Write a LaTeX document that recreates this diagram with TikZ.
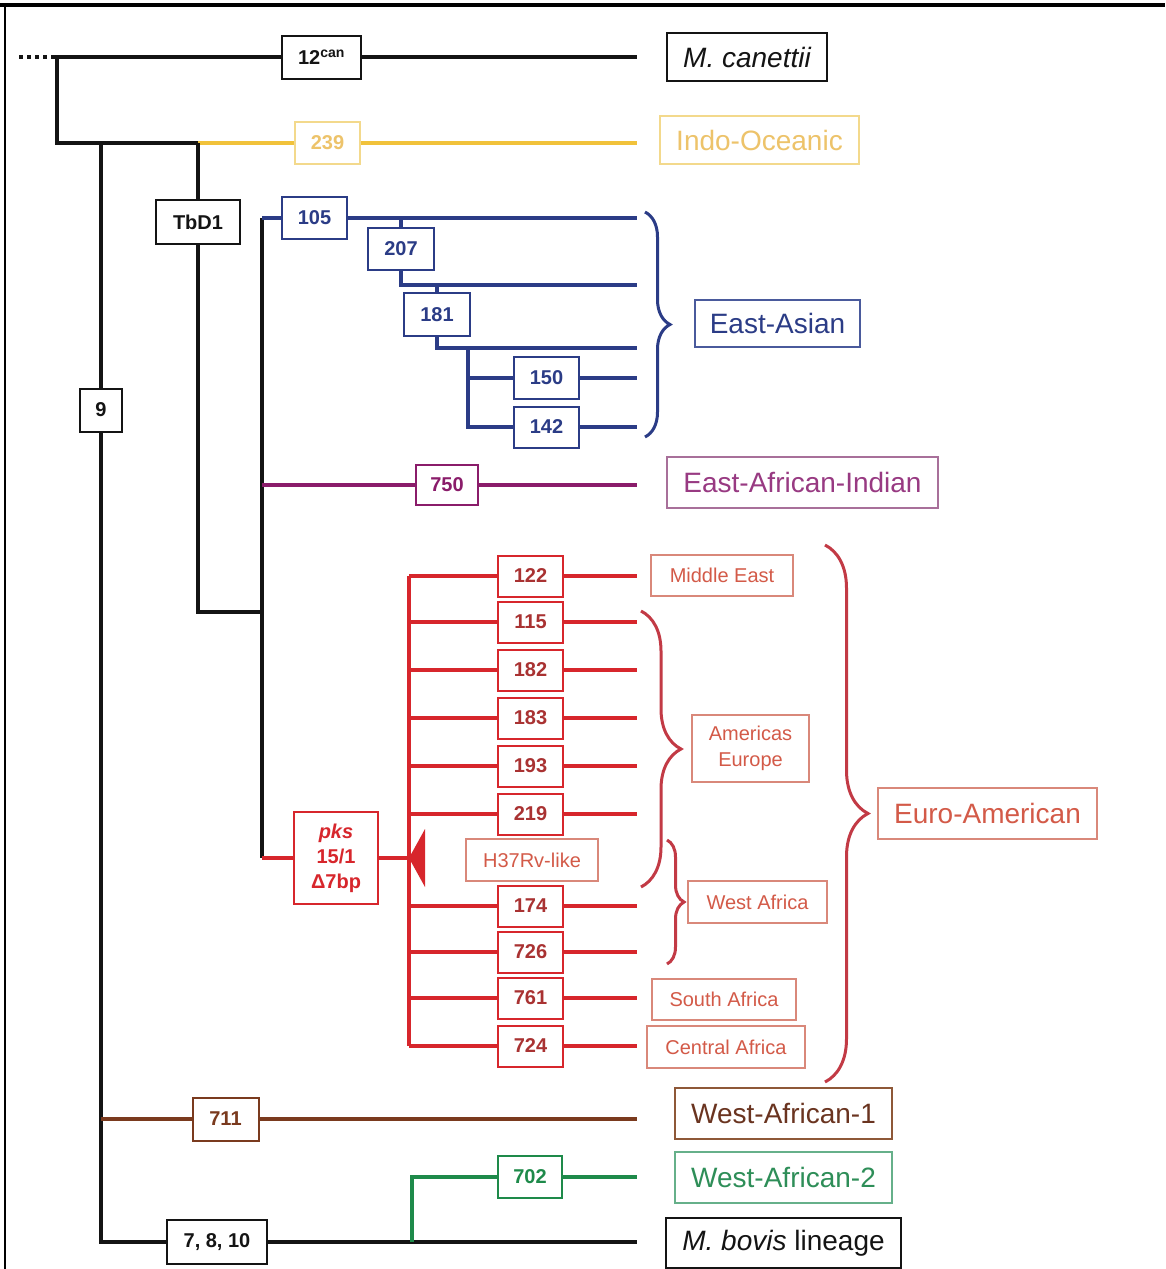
\documentclass[tikz,border=0pt]{standalone}
\usepackage{fontspec}
\setmainfont{Liberation Sans}
\usetikzlibrary{decorations.pathreplacing}
\definecolor{cBlk}{HTML}{141414}
\definecolor{cYel}{HTML}{F1C23A}
\definecolor{cYelT}{HTML}{EDC36A}
\definecolor{cYelB}{HTML}{F3D98C}
\definecolor{cBlu}{HTML}{2B3C86}
\definecolor{cBluB}{HTML}{4A5A9C}
\definecolor{cPur}{HTML}{8A1C6A}
\definecolor{cPurT}{HTML}{983A82}
\definecolor{cPurB}{HTML}{A8709A}
\definecolor{cRed}{HTML}{D7262C}
\definecolor{cRedT}{HTML}{A93232}
\definecolor{cRedL}{HTML}{D35A48}
\definecolor{cRedLB}{HTML}{D9887A}
\definecolor{cRedBr}{HTML}{C23A45}
\definecolor{cBro}{HTML}{7A3A1E}
\definecolor{cBroT}{HTML}{6A3420}
\definecolor{cBroB}{HTML}{8E5838}
\definecolor{cGrn}{HTML}{1E8A4A}
\definecolor{cGrnT}{HTML}{2E8E58}
\definecolor{cGrnB}{HTML}{66B08A}
\newcommand{\myNum}{\fontsize{20}{24}\selectfont\bfseries}
\newcommand{\mySub}{\fontsize{20}{26}\selectfont}
\newcommand{\myLab}{\fontsize{28}{32}\selectfont}
\begin{document}
\begin{tikzpicture}[x=1pt,y=-1pt,
  lnBlk/.style={draw=cBlk,line width=4pt},
  lnYel/.style={draw=cYel,line width=3.5pt},
  lnBlu/.style={draw=cBlu,line width=3.5pt},
  lnPur/.style={draw=cPur,line width=3.5pt},
  lnRed/.style={draw=cRed,line width=3.5pt},
  lnBro/.style={draw=cBro,line width=3.5pt},
  lnGrn/.style={draw=cGrn,line width=3.5pt},
  bx/.style={draw,line width=2pt,inner sep=0pt,align=center,fill=white},
  sz/.style 2 args={minimum width=#1pt,minimum height=#2pt},
  numBlk/.style={bx,draw=cBlk,text=cBlk,font=\myNum},
  numYel/.style={bx,draw=cYel,text=cYelT,font=\myNum},
  numBlu/.style={bx,draw=cBlu,text=cBlu,font=\myNum},
  numPur/.style={bx,draw=cPur,text=cPur,font=\myNum},
  numRed/.style={bx,draw=cRed,text=cRedT,font=\myNum,sz={65}{41}},
  numBro/.style={bx,draw=cBro,text=cBro,font=\myNum},
  numGrn/.style={bx,draw=cGrn,text=cGrn,font=\myNum},
  labBox/.style={bx,font=\myLab},
  subBox/.style={bx,draw=cRedLB,text=cRedL,font=\mySub},
  brc/.style={decorate,decoration={brace,amplitude=#1pt},line width=3pt}
]
\useasboundingbox (0,0) rectangle (1165,1269);
% frame
\draw[draw=black,line width=3.5pt] (0,5) -- (1165,5);
\draw[draw=black,line width=2.5pt] (5,5) -- (5,1269);

% ---------- coordinates ----------
\coordinate (dotL) at (19,57);
\coordinate (A) at (57,57);
\coordinate (Aend) at (637,57);
\coordinate (B) at (57,143);
\coordinate (C) at (198,143);
\coordinate (Yend) at (637,143);
\coordinate (D) at (101,143);
\coordinate (E) at (101,1242);
\coordinate (Bend) at (637,1242);
\coordinate (G1) at (412,1242);
\coordinate (G2) at (412,1177);
\coordinate (Gend) at (637,1177);
\coordinate (W1) at (101,1119);
\coordinate (W1end) at (637,1119);
\coordinate (F) at (198,612);
\coordinate (H) at (262,612);
\coordinate (I) at (262,218);
\coordinate (J) at (262,858);
\coordinate (Bl1) at (637,218);
\coordinate (P0) at (262,485);
\coordinate (P1) at (637,485);
\coordinate (K) at (409,858);
\coordinate (b1) at (401,218);
\coordinate (b2) at (401,285);
\coordinate (b2e) at (637,285);
\coordinate (b3) at (437,285);
\coordinate (b4) at (437,348);
\coordinate (b4e) at (637,348);
\coordinate (b5) at (468,348);
\coordinate (b6) at (468,427);
\coordinate (b6e) at (637,427);
\coordinate (b7) at (468,378);
\coordinate (b7e) at (637,378);
\coordinate (R0) at (409,576);
\coordinate (R1) at (409,1046);

% ---------- nodes ----------
\node[numBlk,sz={79}{43}] (n12) at (321.5,57) {12\textsuperscript{can}};
\node[labBox,draw=cBlk,text=cBlk,sz={160}{48}] (lcan) at (747,57) {\itshape M. canettii};
\node[numYel,draw=cYelB,sz={65}{42}] (n239) at (327.5,143) {239};
\node[labBox,draw=cYelB,text=cYelT,sz={199}{48}] (lindo) at (759.5,140) {Indo-Oceanic};
\node[numBlk,sz={84}{44}] (nTb) at (198,222) {TbD1};
\node[numBlk,sz={42}{43}] (n9) at (101,410) {9};
\node[numBlu,sz={65}{42}] (n105) at (314.5,218) {105};
\node[numBlu,sz={66}{42}] (n207) at (401,249) {207};
\node[numBlu,sz={66}{43}] (n181) at (437,314.5) {181};
\node[numBlu,sz={65}{42}] (n150) at (546.5,378) {150};
\node[numBlu,sz={65}{41}] (n142) at (546.5,427) {142};
\node[labBox,draw=cBluB,text=cBlu,sz={165}{47}] (lea) at (777.5,323.5) {East-Asian};
\node[numPur,sz={62}{40}] (n750) at (447,485) {750};
\node[labBox,draw=cPurB,text=cPurT,sz={271}{51}] (leai) at (802.5,482.5) {East-African-Indian};
\node[numRed,text=cRed,sz={84}{92},font=\fontsize{20}{25}\selectfont\bfseries] (npks) at (336,858) {\itshape pks\\15/1\\Δ7bp};

\node[numRed] (r122) at (530.5,576) {122};
\node[numRed] (r115) at (530.5,622) {115};
\node[numRed] (r182) at (530.5,670) {182};
\node[numRed] (r183) at (530.5,718) {183};
\node[numRed] (r193) at (530.5,766) {193};
\node[numRed] (r219) at (530.5,814) {219};
\node[numRed] (r174) at (530.5,906) {174};
\node[numRed] (r726) at (530.5,952) {726};
\node[numRed] (r761) at (530.5,998) {761};
\node[numRed] (r724) at (530.5,1046) {724};
\node[subBox,sz={132}{42}] (h37) at (532,860) {H37Rv-like};

\node[subBox,sz={142}{41}] (lme) at (722,575.5) {Middle East};
\node[subBox,sz={117}{67}] (lam) at (750.5,748.5) {Americas\\Europe};
\node[subBox,sz={139}{42}] (lwa) at (757.5,902) {West Africa};
\node[subBox,sz={144}{41}] (lsa) at (724,999) {South Africa};
\node[subBox,sz={158}{42}] (lca) at (726,1047) {Central Africa};
\node[labBox,draw=cRedLB,text=cRedL,sz={219}{51}] (leuro) at (987.5,813) {Euro-American};

\node[numBro,sz={66}{43}] (n711) at (225.5,1119) {711};
\node[labBox,draw=cBroB,text=cBroT,sz={217}{51}] (lwa1) at (783.5,1113.5) {West-African-1};
\node[numGrn,sz={64}{42}] (n702) at (530,1177) {702};
\node[labBox,draw=cGrnB,text=cGrnT,sz={217}{51}] (lwa2) at (783.5,1177.5) {West-African-2};
\node[numBlk,sz={100}{44}] (n7810) at (217,1242) {7, 8, 10};
\node[labBox,draw=cBlk,text=cBlk,sz={235}{50}] (lbov) at (783.5,1243) {\itshape M. bovis\upshape{} lineage};

% ---------- connectors ----------
\draw[draw=cBlk,line width=4pt,dash pattern=on 3.5pt off 4.5pt] (dotL) -- (A);
\draw[lnBlk] (n12) -- (Aend);
\draw[lnBlk] (n12) -- (A) -- (B) -- (C);
\draw[lnYel] (C) -- (n239) -- (Yend);
\draw[lnBlk] (D) -- (n9) -- (E) -- (n7810) -- (Bend);
\draw[lnBlk] (C) -- (nTb) -- (F) -- (H);
\draw[lnBlk] (I) -- (J);
\draw[lnBlu] (I) -- (n105) -- (Bl1);
\draw[lnBlu] (b1) -- (n207) -- (b2) -- (b2e);
\draw[lnBlu] (b3) -- (n181) -- (b4) -- (b4e);
\draw[lnBlu] (b5) -- (b6) -- (n142) -- (b6e);
\draw[lnBlu] (b7) -- (n150) -- (b7e);
\draw[lnPur] (P0) -- (n750) -- (P1);
\draw[lnRed] (J) -- (npks) -- (K);
\draw[lnRed] (R0) -- (R1);
\foreach \n/\y in {r122/576,r115/622,r182/670,r183/718,r193/766,r219/814,r174/906,r726/952,r761/998,r724/1046}{
  \draw[lnRed] (409,\y) -- (\n) -- (637,\y);
}
\fill[cRed] (K) -- (425,829) -- (425,887) -- cycle;
\draw[lnBro] (W1) -- (n711) -- (W1end);
\draw[lnGrn] (G1) -- (G2) -- (n702) -- (Gend);

% braces
\draw[brc=25,draw=cBlu] (645,212) -- (645,437);
\draw[brc=40,draw=cRedBr] (641,611) -- (641,887);
\draw[brc=17,draw=cRedBr] (667,840) -- (667,964);
\draw[brc=43,draw=cRedBr] (825,545) -- (825,1082);
\end{tikzpicture}
\end{document}
